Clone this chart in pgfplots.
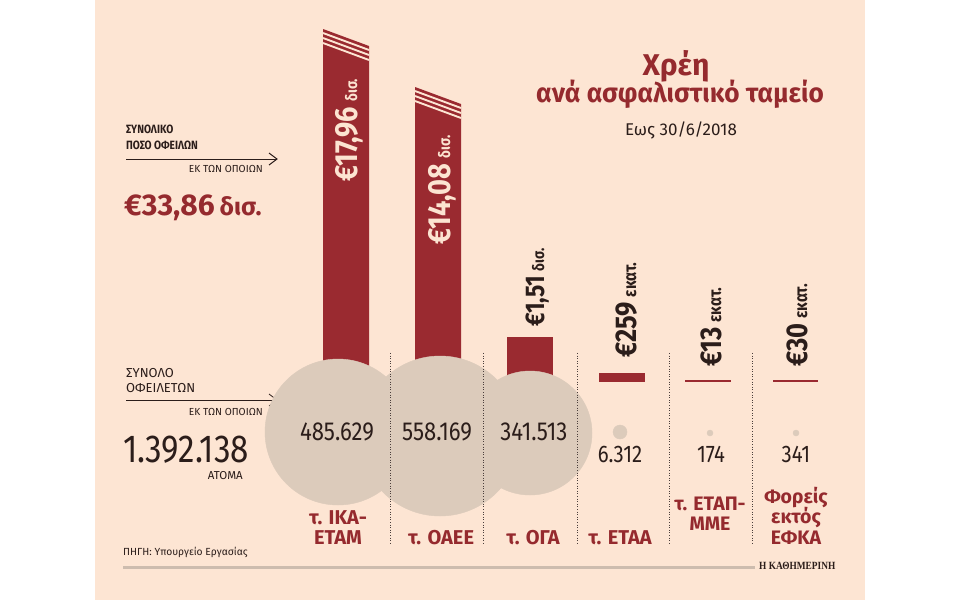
\documentclass[border=0pt]{standalone}
\usepackage{pgfplots}
\pgfplotsset{compat=1.18}
\usepackage{fontspec}
\setmainfont{Fira Sans}[FakeStretch=0.85]
\newfontfamily\widef{Fira Sans}
\newfontfamily\titlef{Fira Sans}[FakeStretch=0.97]
\newfontfamily\logof{Liberation Serif}[FakeStretch=0.85]
\definecolor{panel}{HTML}{FDE5D3}
\definecolor{barred}{HTML}{9A2A30}
\definecolor{titlered}{HTML}{952A2E}
\definecolor{bubble}{HTML}{DCCBBB}
\definecolor{darktxt}{HTML}{2B1D1A}
\definecolor{lighttxt}{HTML}{FCE4D1}
\definecolor{footline}{HTML}{CDBCAE}
\newcommand{\fs}[1]{\fontsize{#1}{#1}\selectfont}
\begin{document}
\begin{tikzpicture}
\begin{axis}[x=1pt,y=1pt,xmin=0,xmax=960,ymin=0,ymax=600,y dir=reverse,
  hide axis,clip=false,scale only axis]
% background
\addplot[fill=white,draw=none] coordinates {(0,0)(960,0)(960,600)(0,600)} -- cycle;
\addplot[fill=panel,draw=none] coordinates {(95,0)(865,0)(865,600)(95,600)} -- cycle;
% bars (baseline y=382)
\addplot[fill=barred,draw=none] coordinates {(323,382)(323,29)(369,46)(369,382)} -- cycle;
\addplot[fill=barred,draw=none] coordinates {(415,382)(415,87)(461,104)(461,382)} -- cycle;
\addplot[fill=barred,draw=none] coordinates {(507,382)(507,337)(553,337)(553,382)} -- cycle;
\addplot[fill=barred,draw=none] coordinates {(599,382)(599,373)(645,373)(645,382)} -- cycle;
\addplot[fill=barred,draw=none] coordinates {(685,382)(685,380)(731,380)(731,382)} -- cycle;
\addplot[fill=barred,draw=none] coordinates {(773,382)(773,380)(818,380)(818,382)} -- cycle;
% break stripes
\draw[panel,line width=1.9pt] (axis cs:323,33) -- (axis cs:369,50);
\draw[panel,line width=1.9pt] (axis cs:323,38) -- (axis cs:369,55);
\draw[panel,line width=1.9pt] (axis cs:323,43) -- (axis cs:369,60);
\draw[panel,line width=1.9pt] (axis cs:415,91) -- (axis cs:461,108);
\draw[panel,line width=1.9pt] (axis cs:415,96) -- (axis cs:461,113);
\draw[panel,line width=1.9pt] (axis cs:415,101) -- (axis cs:461,118);
% bubbles (area ~ number of debtors)
\addplot[only marks,mark=*,mark size=73,color=bubble] coordinates {(338,432)};
\addplot[only marks,mark=*,mark size=80,color=bubble] coordinates {(440,436)};
\addplot[only marks,mark=*,mark size=62,color=bubble] coordinates {(530,433)};
\addplot[only marks,mark=*,mark size=7,color=bubble] coordinates {(620,432)};
\addplot[only marks,mark=*,mark size=3,color=bubble] coordinates {(710,433)};
\addplot[only marks,mark=*,mark size=3,color=bubble] coordinates {(796,433)};
% coordinates for things drawn above the bubbles
\coordinate (n1) at (axis cs:337,440);
\coordinate (n2) at (axis cs:437,440);
\coordinate (n3) at (axis cs:534,440);
\coordinate (d1a) at (axis cs:390,353); \coordinate (d1b) at (axis cs:390,545);
\coordinate (d2a) at (axis cs:483,353); \coordinate (d2b) at (axis cs:483,545);
\coordinate (d3a) at (axis cs:577,353); \coordinate (d3b) at (axis cs:577,545);
\coordinate (d4a) at (axis cs:669,353); \coordinate (d4b) at (axis cs:669,545);
\coordinate (d5a) at (axis cs:752,353); \coordinate (d5b) at (axis cs:752,545);
% small counts
\node[anchor=base,text=darktxt,font=\fs{24}] at (axis cs:620,462) {6.312};
\node[anchor=base,text=darktxt,font=\fs{24}] at (axis cs:711,462) {174};
\node[anchor=base,text=darktxt,font=\fs{24}] at (axis cs:796,462) {341};
% rotated amount labels
\node[rotate=90,anchor=base west,inner sep=0pt,text=lighttxt] at (axis cs:357,182)
  {\bfseries\fs{32}€17,96\,\fs{16}δισ.};
\node[rotate=90,anchor=base west,inner sep=0pt,text=lighttxt] at (axis cs:450,245)
  {\bfseries\fs{32}€14,08\,\fs{16}δισ.};
\node[rotate=90,anchor=base west,inner sep=0pt,text=darktxt] at (axis cs:544,327)
  {\bfseries\fs{27}€1,51\,\fs{16}δισ.};
\node[rotate=90,anchor=base west,inner sep=0pt,text=darktxt] at (axis cs:636,358)
  {\bfseries\fs{30}€259\,\fs{18}εκατ.};
\node[rotate=90,anchor=base west,inner sep=0pt,text=darktxt] at (axis cs:721,367)
  {\bfseries\fs{30}€13\,\fs{18}εκατ.};
\node[rotate=90,anchor=base west,inner sep=0pt,text=darktxt] at (axis cs:807,367)
  {\bfseries\fs{30}€30\,\fs{18}εκατ.};
% category labels
\node[anchor=base,inner sep=0pt,text=titlered,font=\widef\bfseries\fs{20}] at (axis cs:338,524) {τ. ΙΚΑ-};
\node[anchor=base,inner sep=0pt,text=titlered,font=\widef\bfseries\fs{20}] at (axis cs:338,544) {ΕΤΑΜ};
\node[anchor=base,inner sep=0pt,text=titlered,font=\widef\bfseries\fs{20}] at (axis cs:441,544) {τ. ΟΑΕΕ};
\node[anchor=base,inner sep=0pt,text=titlered,font=\widef\bfseries\fs{20}] at (axis cs:533,544) {τ. ΟΓΑ};
\node[anchor=base,inner sep=0pt,text=titlered,font=\widef\bfseries\fs{20}] at (axis cs:620,544) {τ. ΕΤΑΑ};
\node[anchor=base,inner sep=0pt,text=titlered,font=\widef\bfseries\fs{19.5}] at (axis cs:710,510) {τ. ΕΤΑΠ-};
\node[anchor=base,inner sep=0pt,text=titlered,font=\widef\bfseries\fs{19.5}] at (axis cs:710,530) {ΜΜΕ};
\node[anchor=base,inner sep=0pt,text=titlered,font=\widef\bfseries\fs{19.5}] at (axis cs:796,503) {Φορείς};
\node[anchor=base,inner sep=0pt,text=titlered,font=\widef\bfseries\fs{19.5}] at (axis cs:796,523) {εκτός};
\node[anchor=base,inner sep=0pt,text=titlered,font=\widef\bfseries\fs{19.5}] at (axis cs:796,544) {ΕΦΚΑ};
% title
\node[anchor=base,inner sep=0pt,text depth=0pt,text=titlered,font=\widef\bfseries\fs{30}] at (axis cs:676,75) {Χρέη};
\node[anchor=base,inner sep=0pt,text=titlered,font=\titlef\bfseries\fs{27}] at (axis cs:680,102) {ανά ασφαλιστικό ταμείο};
\node[anchor=base,inner sep=0pt,text=darktxt,font=\widef\fs{17}] at (axis cs:681,135) {Εως 30/6/2018};
% left block: amounts
\node[anchor=base west,inner sep=0pt,text=darktxt,font=\bfseries\fs{12}] at (axis cs:126,133) {ΣΥΝΟΛΙΚΟ};
\node[anchor=base west,inner sep=0pt,text=darktxt,font=\bfseries\fs{12}] at (axis cs:126,149) {ΠΟΣΟ ΟΦΕΙΛΩΝ};
\draw[darktxt,line width=1pt] (axis cs:126,159) -- (axis cs:277,159);
\draw[darktxt,line width=1pt] (axis cs:269,153) -- (axis cs:277,159) -- (axis cs:269,165);
\node[anchor=base east,inner sep=0pt,text=darktxt,font=\widef\fs{10.2}] at (axis cs:263,172) {ΕΚ ΤΩΝ ΟΠΟΙΩΝ};
\node[anchor=base west,inner sep=0pt,text=titlered] at (axis cs:124,215) {\widef\bfseries\fs{30}€33,86\,\fs{25}δισ.};
% left block: debtors
\node[anchor=base west,inner sep=0pt,text=darktxt,font=\widef\fs{13}] at (axis cs:126,377) {ΣΥΝΟΛΟ};
\node[anchor=base west,inner sep=0pt,text=darktxt,font=\widef\fs{13}] at (axis cs:126,392) {ΟΦΕΙΛΕΤΩΝ};
\draw[darktxt,line width=0.8pt] (axis cs:126,400) -- (axis cs:277,400);
\draw[darktxt,line width=0.8pt] (axis cs:269,394) -- (axis cs:277,400) -- (axis cs:269,406);
\node[anchor=base east,inner sep=0pt,text=darktxt,font=\widef\fs{10.2}] at (axis cs:263,415) {ΕΚ ΤΩΝ ΟΠΟΙΩΝ};
\node[anchor=base west,inner sep=0pt,text depth=0pt,text=darktxt,font=\fs{39}] at (axis cs:123,462) {1.392.138};
\node[anchor=base east,inner sep=0pt,text=darktxt,font=\widef\fs{11.5}] at (axis cs:243,479) {ΑΤΟΜΑ};
% footer
\node[anchor=base west,inner sep=0pt,text=darktxt,font=\widef\fs{10.3}] at (axis cs:123,555) {ΠΗΓΗ: Υπουργείο Εργασίας};
\draw[footline,line width=3pt] (axis cs:123,567) -- (axis cs:755,567);
\node[anchor=base west,inner sep=0pt,text=darktxt,font=\logof\bfseries\fs{11}] at (axis cs:759,569) {Η ΚΑΘΗΜΕΡΙΝΗ};
\end{axis}
% drawn above the bubbles
\foreach \a/\b in {d1a/d1b,d2a/d2b,d3a/d3b,d4a/d4b,d5a/d5b}
  \draw[darktxt!85,line width=0.9pt,dash pattern=on 1pt off 1.6pt] (\a) -- (\b);
\node[anchor=base,text=darktxt,font=\fs{26}] at (n1) {485.629};
\node[anchor=base,text=darktxt,font=\fs{26}] at (n2) {558.169};
\node[anchor=base,text=darktxt,font=\fs{26}] at (n3) {341.513};
\end{tikzpicture}
\end{document}
